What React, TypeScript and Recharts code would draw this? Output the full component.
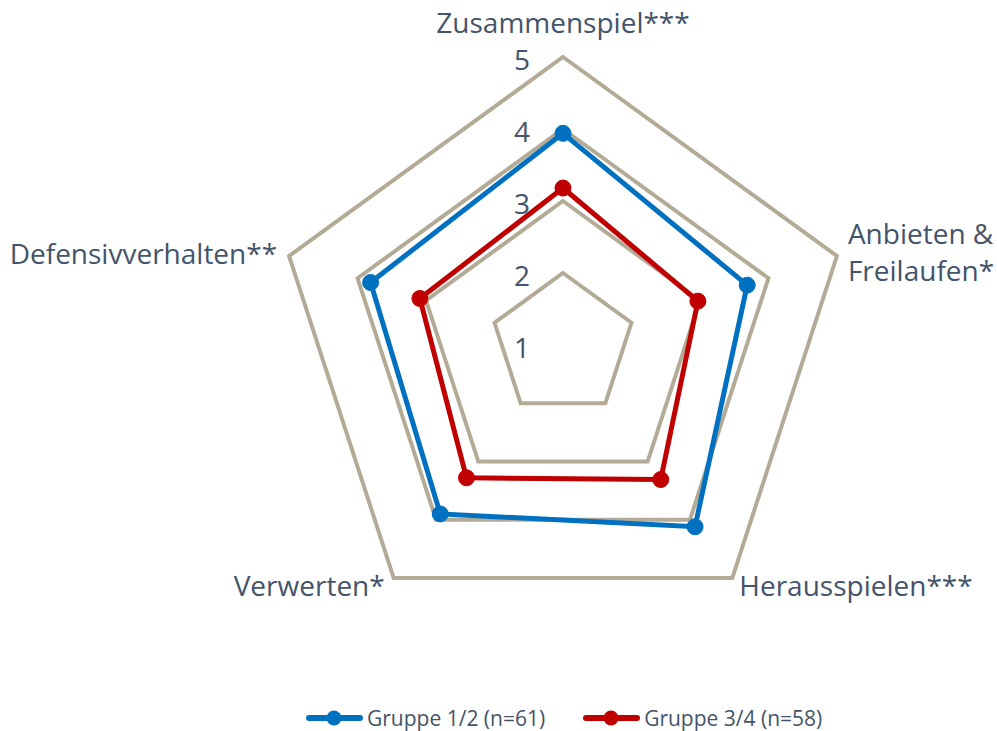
import React from 'react';
import { RadarChart, Radar, PolarGrid, PolarAngleAxis, PolarRadiusAxis, Legend } from 'recharts';

const categories = ['Zusammenspiel***', 'Anbieten & Freilaufen*', 'Herausspielen***', 'Verwerten*', 'Defensivverhalten**'];
const gruppe12 = [3.94, 3.69, 4.12, 3.9, 3.81];
const gruppe34 = [3.18, 2.97, 3.31, 3.28, 3.09];
const radiusTicks = [1, 2, 3, 4, 5];
const seriesNames = ['Gruppe 1/2 (n=61)', 'Gruppe 3/4 (n=58)'];

const data = categories.map((c, i) => ({ axis: c, g12: gruppe12[i], g34: gruppe34[i] }));

const CX = 563;
const CY = 345;
const R = 288;
const TEXT = '#44546a';
const FONT = '"Open Sans", sans-serif';
const BLUE = '#0070c0';
const RED = '#c00000';
const GRID = '#b4ab96';

const labelOffsets = [
  { dx: 0, dy: -35, anchor: 'middle' },
  { dx: 11, dy: -23, anchor: 'start' },
  { dx: 7, dy: 7, anchor: 'start' },
  { dx: -9, dy: 7, anchor: 'end' },
  { dx: -12, dy: -3, anchor: 'end' },
];

const AngleTick = (props: any) => {
  const { payload, index } = props;
  const ang = (payload.coordinate * Math.PI) / 180;
  const vx = CX + R * Math.cos(ang);
  const vy = CY - R * Math.sin(ang);
  const o = labelOffsets[index % labelOffsets.length];
  const value: string = payload.value;
  const lines = index === 1 ? ['Anbieten &', 'Freilaufen*'] : [value];
  return (
    <text
      x={vx + o.dx}
      y={vy + o.dy}
      textAnchor={o.anchor as any}
      dominantBaseline="central"
      fill={TEXT}
      fontSize={28}
      fontFamily={FONT}
    >
      {lines.map((l, i) => (
        <tspan key={i} x={vx + o.dx} dy={i === 0 ? 0 : 37}>
          {l}
        </tspan>
      ))}
    </text>
  );
};

const RadiusTick = (props: any) => {
  const { x, y, payload } = props;
  return (
    <text x={x - 41} y={y + 2} textAnchor="middle" dominantBaseline="central" fill={TEXT} fontSize={28} fontFamily={FONT}>
      {payload.value}
    </text>
  );
};

const LegendContent = () => {
  const items = [
    { name: seriesNames[0], color: BLUE },
    { name: seriesNames[1], color: RED },
  ];
  return (
    <div style={{ display: 'flex', alignItems: 'center', paddingLeft: 306, fontFamily: FONT, fontSize: 21, color: TEXT }}>
      {items.map((it, i) => (
        <div key={i} style={{ display: 'flex', alignItems: 'center', marginRight: 38 }}>
          <svg width={57} height={22} style={{ display: 'block' }}>
            <line x1={3} y1={11} x2={54} y2={11} stroke={it.color} strokeWidth={6} strokeLinecap="round" />
            <circle cx={28} cy={11} r={7.5} fill={it.color} />
          </svg>
          <span style={{ marginLeft: 4, whiteSpace: 'nowrap', lineHeight: '24px' }}>{it.name}</span>
        </div>
      ))}
    </div>
  );
};

export default function App() {
  return (
    <div style={{ position: 'absolute', left: 0, top: 0, width: 997, height: 731, background: '#fff' }}>
      <RadarChart width={997} height={731} data={data} cx={CX} cy={CY} outerRadius={R}>
        <PolarGrid gridType="polygon" radialLines={false} stroke={GRID} strokeWidth={4} />
        <PolarAngleAxis dataKey="axis" tick={AngleTick} tickLine={false} axisLine={false} />
        <PolarRadiusAxis
          angle={90}
          domain={[1, 5]}
          ticks={radiusTicks as any}
          tickCount={5}
          axisLine={false}
          tickLine={false}
          tick={RadiusTick}
        />
        <Radar
          name={seriesNames[0]}
          dataKey="g12"
          stroke={BLUE}
          strokeWidth={5}
          fill={BLUE}
          fillOpacity={0}
          dot={{ r: 8, fill: BLUE, stroke: BLUE, strokeWidth: 1, fillOpacity: 1 }}
          isAnimationActive={false}
        />
        <Radar
          name={seriesNames[1]}
          dataKey="g34"
          stroke={RED}
          strokeWidth={5}
          fill={RED}
          fillOpacity={0}
          dot={{ r: 8, fill: RED, stroke: RED, strokeWidth: 1, fillOpacity: 1 }}
          isAnimationActive={false}
        />
        <Legend content={LegendContent} wrapperStyle={{ position: 'absolute', left: 0, top: 706, width: 997 }} />
      </RadarChart>
    </div>
  );
}
